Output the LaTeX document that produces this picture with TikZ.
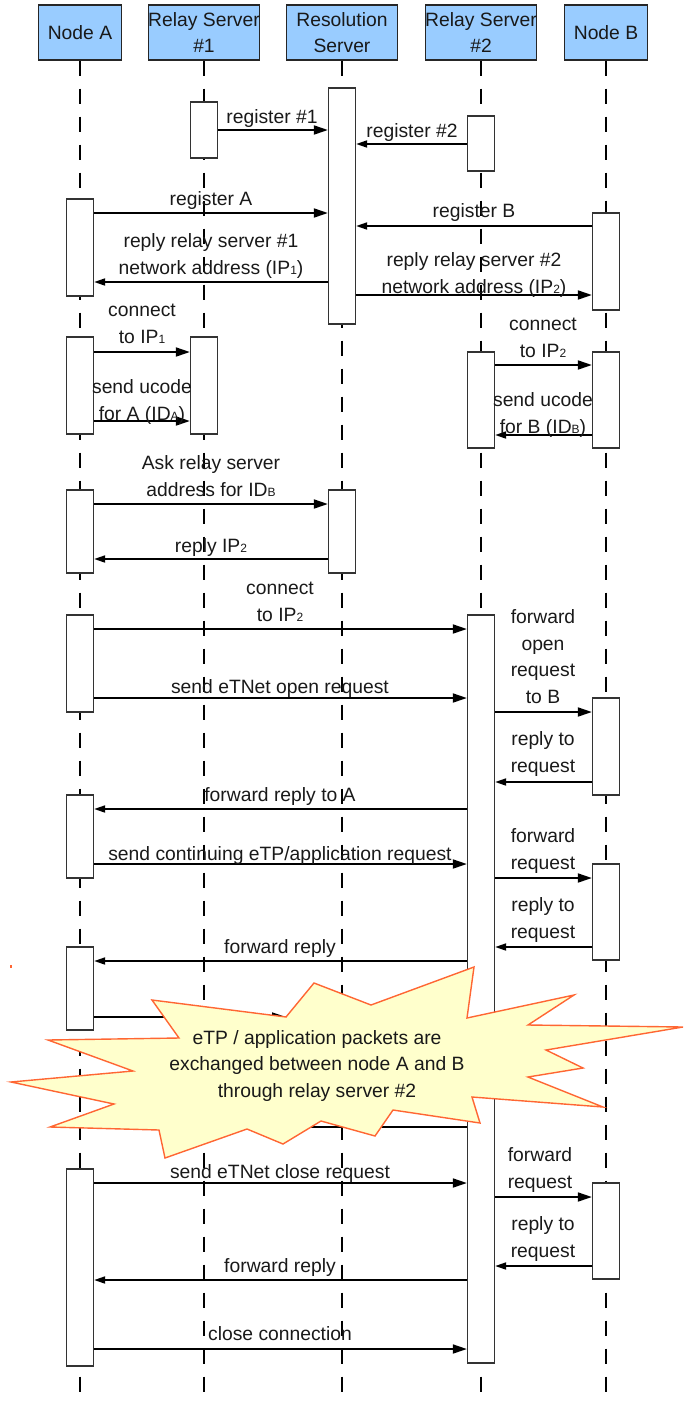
\documentclass[tikz,border=0pt]{standalone}
\usepackage{fontspec}
\setmainfont{Liberation Sans}
\usetikzlibrary{arrows.meta}
\definecolor{headfill}{RGB}{153,204,255}
\definecolor{burstfill}{RGB}{255,255,204}
\definecolor{burstline}{RGB}{255,102,51}
% small index digits/letters sitting on the baseline (IP1, IDA, ...)
\newcommand\ix[1]{{\fontsize{12}{12}\selectfont #1}}
% activation bar: name, x, top, bottom
\newcommand\actbox[4]{%
  \pgfmathsetmacro\acth{#4-#3}\pgfmathsetmacro\actc{(#3+#4)/2}%
  \node[act, minimum height=\acth pt] (#1) at (#2,\actc) {};}
% request to the right / reply to the left, at height y
\newcommand\callmsg[3]{\draw[call] (#1.east |- 0,#3) -- (#2.west |- 0,#3);}
\newcommand\retmsg[3]{\draw[ret] (#1.west |- 0,#3) -- (#2.east |- 0,#3);}
\begin{document}
\begin{tikzpicture}[x=1pt,y=-1pt,
  every node/.style={font=\fontsize{19.3}{26.5}\selectfont, text=black!90},
  head/.style={draw=black!85, line width=1.4pt, fill=headfill, minimum height=55pt, inner sep=0pt, align=center},
  life/.style={line width=1.8pt, dash pattern=on 15pt off 13pt},
  act/.style={draw=black!80, line width=1.3pt, fill=white, minimum width=27pt, inner sep=0pt},
  call/.style={line width=1.8pt, -{Triangle[length=14pt,width=9pt]}},
  ret/.style={line width=1.8pt, -{Triangle[length=11pt,width=7pt]}},
  % labels are placed by the baseline of their last line
  lbl/.style={inner sep=0pt, align=center, anchor=base},
  burst/.style={draw=burstline, line width=1.4pt, fill=burstfill, line join=miter},
]
\useasboundingbox (0,0) rectangle (685,1401);

% participants
\node[head, minimum width=83pt]  (hA)  at (80,32.5)  {Node A};
\node[head, minimum width=111pt] (hR1) at (204,32.5) {Relay Server\\\#1};
\node[head, minimum width=111pt] (hRS) at (342,32.5) {Resolution\\Server};
\node[head, minimum width=110pt] (hR2) at (481,32.5) {Relay Server\\\#2};
\node[head, minimum width=83pt]  (hB)  at (606,32.5) {Node B};

% lifelines
\coordinate (eA)  at (80,1398);
\coordinate (eR1) at (204,1398);
\coordinate (eRS) at (342,1398);
\coordinate (eR2) at (481,1398);
\coordinate (eB)  at (606,1398);
\draw[life] (hA.south)  -- (eA);
\draw[life] (hR1.south) -- (eR1);
\draw[life] (hRS.south) -- (eRS);
\draw[life] (hR2.south) -- (eR2);
\draw[life] (hB.south)  -- (eB);

% registration of the relay servers
\actbox{r1a}{204}{102}{158}
\actbox{rsa}{342}{88}{324}
\actbox{r2a}{481}{116}{171}
\callmsg{r1a}{rsa}{130}
\retmsg{r2a}{rsa}{144}
\node[lbl] (t1) at (272,123) {register \#1};
\node[lbl] (t2) at (412,137) {register \#2};

% registration of the nodes
\actbox{aa}{80}{199}{296}
\actbox{ba}{606}{213}{310}
\callmsg{aa}{rsa}{213}
\retmsg{ba}{rsa}{226}
\retmsg{rsa}{aa}{282}
\callmsg{rsa}{ba}{295}
\node[lbl] (t3) at (211,205) {register A};
\node[lbl] (t4) at (474,217) {register B};
\node[lbl] (t5) at (211,274) {reply relay server \#1\\network address (IP\ix{1})};
\node[lbl] (t6) at (474,293) {reply relay server \#2\\network address (IP\ix{2})};

% nodes connect to their relay servers
\actbox{ab}{80}{337}{434}
\actbox{r1b}{204}{337}{434}
\actbox{r2b}{481}{352}{448}
\actbox{bb}{606}{352}{448}
\callmsg{ab}{r1b}{352}
\callmsg{ab}{r1b}{421}
\callmsg{r2b}{bb}{365}
\retmsg{bb}{r2b}{435}
\node[lbl] (t7) at (142,343) {connect\\to IP\ix{1}};
\node[lbl] (t8) at (142,420) {send ucode\\for A (ID\ix{A})};
\node[lbl] (t9) at (543,357) {connect\\to IP\ix{2}};
\node[lbl] (t10) at (543,433) {send ucode\\for B (ID\ix{B})};

% address resolution
\actbox{ac}{80}{490}{573}
\actbox{rsb}{342}{490}{573}
\callmsg{ac}{rsb}{504}
\retmsg{rsb}{ac}{559}
\node[lbl] (t11) at (211,496) {Ask relay server\\address for ID\ix{B}};
\node[lbl] (t12) at (211,552) {reply IP\ix{2}};

% opening the eTNet connection
\actbox{ad}{80}{615}{712}
\actbox{r2c}{481}{615}{1363}
\actbox{bc}{606}{698}{795}
\callmsg{ad}{r2c}{629}
\callmsg{ad}{r2c}{698}
\callmsg{r2c}{bc}{712}
\retmsg{bc}{r2c}{782}
\node[lbl] (t13) at (280,621) {connect\\to IP\ix{2}};
\node[lbl] (t14) at (280,693) {send eTNet open request};
\node[lbl] (t15) at (543,703) {forward\\open\\request\\to B};
\node[lbl] (t16) at (543,772) {reply to\\request};

\actbox{ae}{80}{795}{878}
\retmsg{r2c}{ae}{809}
\node[lbl] (t17) at (280,801) {forward reply to A};

% continuing requests
\actbox{bd}{606}{864}{960}
\callmsg{ae}{r2c}{864}
\callmsg{r2c}{bd}{878}
\retmsg{bd}{r2c}{947}
\node[lbl] (t18) at (280,860) {send continuing eTP/application request};
\node[lbl] (t19) at (543,869) {forward\\request};
\node[lbl] (t20) at (543,938) {reply to\\request};

\actbox{af}{80}{947}{1030}
\retmsg{r2c}{af}{961}
\node[lbl] (t21) at (280,953) {forward reply};

% packet exchange, partly hidden by the note
\coordinate (xA) at (286,1017);
\coordinate (xB) at (250,1127);
\draw[call] (af.east |- xA) -- (xA);
\draw[line width=1.8pt] (r2c.west |- xB) -- (xB);

% closing the connection
\actbox{ag}{80}{1169}{1366}
\actbox{be}{606}{1183}{1279}
\callmsg{ag}{r2c}{1183}
\callmsg{r2c}{be}{1197}
\retmsg{be}{r2c}{1266}
\retmsg{r2c}{ag}{1280}
\callmsg{ag}{r2c}{1349}
\node[lbl] (t22) at (280,1178) {send eTNet close request};
\node[lbl] (t23) at (540,1188) {forward\\request};
\node[lbl] (t24) at (543,1257) {reply to\\request};
\node[lbl] (t25) at (280,1272) {forward reply};
\node[lbl] (t26) at (280,1340) {close connection};

% explosion note
\fill[burstline] (10,965) rectangle (11.5,968);
\draw[burst] (152,1000) -- (286,1017) -- (314,983) -- (371,1005) -- (474,967)
  -- (467,1018) -- (574,995) -- (528,1025) -- (683,1027) -- (546,1050)
  -- (583,1068) -- (528,1077) -- (603,1107) -- (472,1097) -- (480,1123)
  -- (393,1110) -- (375,1136) -- (321,1121) -- (283,1144) -- (247,1129)
  -- (165,1158) -- (159,1130) -- (50,1127) -- (114,1104) -- (11,1082)
  -- (133,1071) -- (48,1040) -- (179,1038) -- cycle;
\node[lbl] (note) at (317,1097) {eTP / application packets are\\exchanged between node A and B\\through relay server \#2};
\end{tikzpicture}
\end{document}
